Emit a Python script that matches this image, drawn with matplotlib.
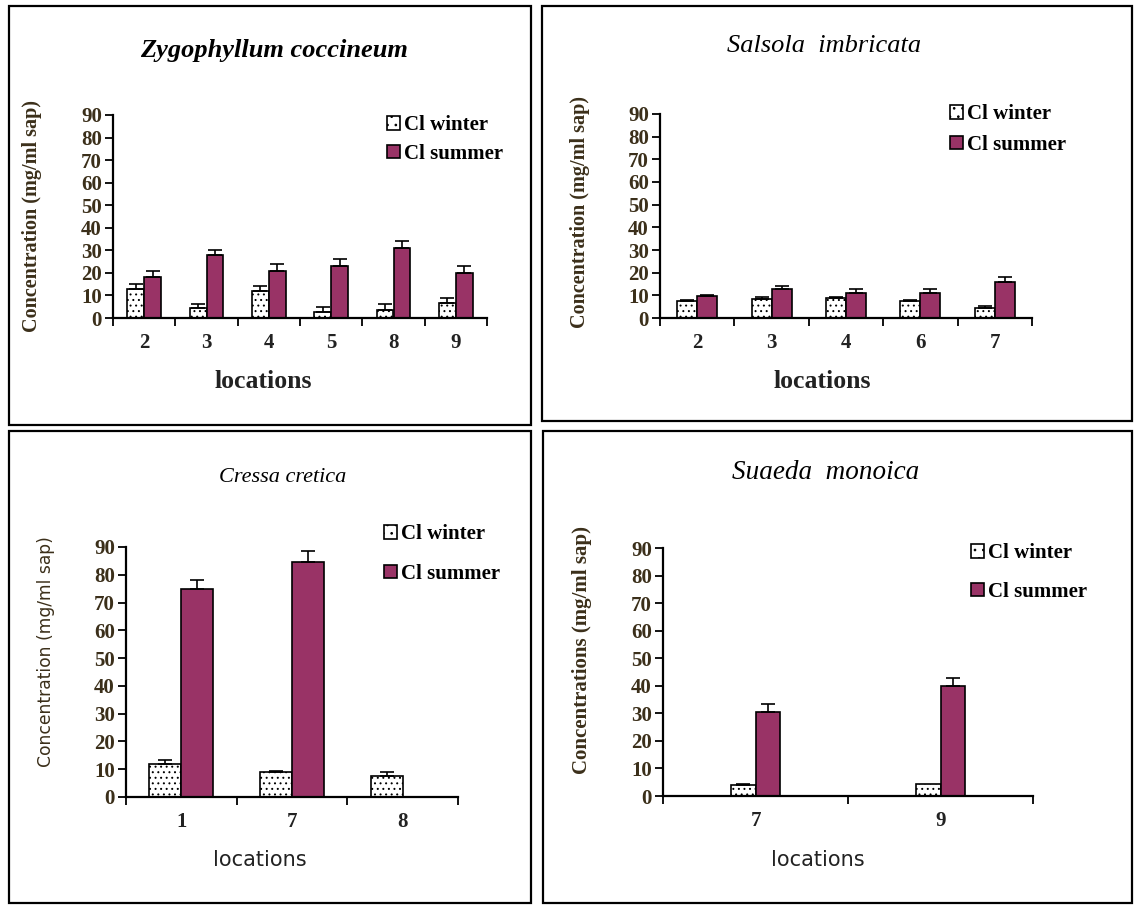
import matplotlib
matplotlib.use("Agg")
import matplotlib.pyplot as plt
import numpy as np
from matplotlib.patches import Rectangle, Patch

W, H = 1136, 907

# ---------------- data ----------------
zy_locations = ["2", "3", "4", "5", "8", "9"]
zy_winter = [13, 4.5, 12, 2.5, 3.5, 6.5]
zy_winter_err = [2, 1.5, 2, 2.5, 2.5, 2.5]
zy_summer = [18, 28, 21, 23, 31, 20]
zy_summer_err = [3, 2, 3, 3, 3, 3]

sa_locations = ["2", "3", "4", "6", "7"]
sa_winter = [7.5, 8.5, 9, 7.5, 4.5]
sa_winter_err = [0.3, 0.8, 0.4, 0.4, 0.8]
sa_summer = [9.5, 13, 11, 11, 16]
sa_summer_err = [0.6, 1, 2, 2, 2]

cr_locations = ["1", "7", "8"]
cr_winter = [12, 9, 7.5]
cr_winter_err = [1.5, 0.5, 1.5]
cr_summer = [75, 84.5, 0]
cr_summer_err = [3, 4, 0]

su_locations = ["7", "9"]
su_winter = [4, 4.5]
su_winter_err = [0.5, 0]
su_summer = [30.5, 40]
su_summer_err = [3, 3]

yticks = [0, 10, 20, 30, 40, 50, 60, 70, 80, 90]

# ---------------- style ----------------
SERIF = "Liberation Serif"
SANS = "DejaVu Sans"
MAROON = "#993366"
TXT = "#3b2f1a"

fig = plt.figure(figsize=(W / 100, H / 100), dpi=100)
fig.patch.set_facecolor("white")
plt.rcParams["hatch.linewidth"] = 0.7


def px_rect(l, t, r, b):
    return [l / W, 1 - b / H, (r - l) / W, (b - t) / H]


# panel borders
for (l, t, r, b) in [(9, 6, 531, 425), (542, 6, 1132, 421),
                     (9, 431, 531, 903), (543, 431, 1132, 903)]:
    fig.patches.append(Rectangle((l / W, 1 - b / H), (r - l) / W, (b - t) / H,
                                 transform=fig.transFigure, fill=False,
                                 edgecolor="black", linewidth=1.6, zorder=0))


def panel(rect, cats, win, win_err, summ, summ_err, width, title, title_xy,
          title_bold, title_size, xlabel, xlabel_xy, xlabel_font, ylabel, ylabel_xy,
          ylabel_font, legend_xy, legend_spacing):
    ax = fig.add_axes(px_rect(*rect))
    x = np.arange(len(cats))
    ax.bar(x - width / 2, win, width, color="white", edgecolor="black",
           hatch="...", linewidth=1.2, zorder=2)
    ax.bar(x + width / 2, summ, width, color=MAROON, edgecolor="black",
           linewidth=1.2, zorder=2)
    for xs, vals, errs in [(x - width / 2, win, win_err), (x + width / 2, summ, summ_err)]:
        for xi, v, e in zip(xs, vals, errs):
            if v > 0 and e > 0:
                ax.errorbar([xi], [v], yerr=[[0], [e]], fmt="none", ecolor="black",
                            elinewidth=1.2, capsize=5, capthick=1.2, zorder=3)
    ax.set_xlim(-0.5, len(cats) - 0.5)
    ax.set_ylim(0, 90)
    ax.set_yticks(yticks)
    ax.set_yticklabels([str(t) for t in yticks], fontfamily=SERIF,
                       fontweight="bold", fontsize=15, color=TXT)
    ax.set_xticks(np.arange(len(cats) + 1) - 0.5)
    ax.set_xticklabels([])
    ax.set_xticks(x, minor=True)
    ax.set_xticklabels(cats, minor=True, fontfamily=SERIF, fontweight="bold",
                       fontsize=15, color="#222222")
    ax.tick_params(axis="x", which="minor", length=0, pad=11)
    ax.tick_params(axis="x", which="major", length=6, width=1.3, direction="out")
    ax.tick_params(axis="y", length=6, width=1.3, direction="out", pad=2)
    for s in ["top", "right"]:
        ax.spines[s].set_visible(False)
    for s in ["left", "bottom"]:
        ax.spines[s].set_linewidth(1.6)
    ax.set_facecolor("none")

    fig.text(title_xy[0] / W, 1 - title_xy[1] / H, title, ha="center", va="center",
             fontfamily=SERIF, fontstyle="italic",
             fontweight="bold" if title_bold else "normal", fontsize=title_size,
             color="black")
    fam, wt, sz = xlabel_font
    fig.text(xlabel_xy[0] / W, 1 - xlabel_xy[1] / H, xlabel, ha="center", va="center",
             fontfamily=fam, fontweight=wt, fontsize=sz, color="#222222")
    fam, wt, sz = ylabel_font
    fig.text(ylabel_xy[0] / W, 1 - ylabel_xy[1] / H, ylabel, ha="center", va="center",
             rotation=90, fontfamily=fam, fontweight=wt, fontsize=sz, color=TXT)

    handles = [Patch(facecolor="white", edgecolor="black", hatch="..", linewidth=1.2),
               Patch(facecolor=MAROON, edgecolor="black", linewidth=1.2)]
    fig.legend(handles, ["Cl winter", "Cl summer"], loc="upper left",
               bbox_to_anchor=(legend_xy[0] / W, 1 - legend_xy[1] / H),
               frameon=False, borderpad=0, handlelength=0.6, handleheight=0.6,
               handletextpad=0.2, labelspacing=legend_spacing,
               prop={"family": SERIF, "weight": "bold", "size": 15})
    return ax


panel((113, 115, 487, 318), zy_locations, zy_winter, zy_winter_err, zy_summer,
      zy_summer_err, 0.27, "Zygophyllum coccineum", (274, 50), True, 19,
      "locations", (263, 382), (SERIF, "bold", 18.5),
      "Concentration (mg/ml sap)", (32, 216), (SERIF, "bold", 14.5),
      (377, 105), 0.4)

panel((660, 114, 1032, 318), sa_locations, sa_winter, sa_winter_err, sa_summer,
      sa_summer_err, 0.27, "Salsola  imbricata", (824, 46), False, 19,
      "locations", (822, 381), (SERIF, "bold", 18.5),
      "Concentration (mg/ml sap)", (580, 212), (SERIF, "bold", 14.5),
      (940, 94), 0.5)

panel((126, 547, 458, 797), cr_locations, cr_winter, cr_winter_err, cr_summer,
      cr_summer_err, 0.29, "Cressa cretica", (283, 477), False, 16,
      "locations", (260, 860), (SANS, "normal", 15),
      "Concentration (mg/ml sap)", (46, 652), (SANS, "normal", 12.3),
      (374, 514), 0.95)

panel((663, 548, 1033, 796), su_locations, su_winter, su_winter_err, su_summer,
      su_summer_err, 0.135, "Suaeda  monoica", (826, 473), False, 19.5,
      "locations", (818, 860), (SANS, "normal", 15),
      "Concentrations (mg/ml sap)", (582, 650), (SERIF, "bold", 15),
      (961, 533), 0.9)

fig.savefig("out.png", dpi=100, facecolor="white")
